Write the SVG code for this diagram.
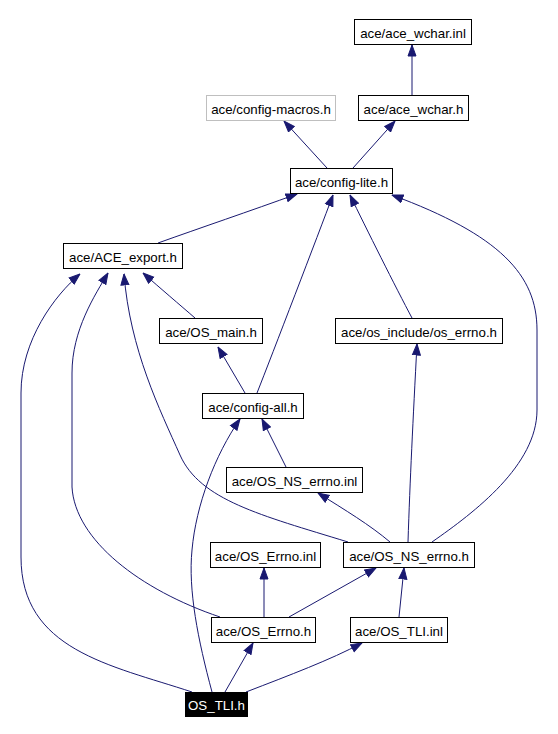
<svg xmlns="http://www.w3.org/2000/svg" width="558" height="734" viewBox="0 0 558 734">
<style>
.box{fill:#ffffff;stroke:#000000;stroke-width:1}
.grey{fill:#ffffff;stroke:#bfbfbf;stroke-width:1}
.root{fill:#000000;stroke:#000000;stroke-width:1}
.lbl{font-family:"Liberation Sans",Arial,Helvetica,sans-serif;font-size:13.3px;fill:#000000;text-anchor:middle}
.wlbl{font-family:"Liberation Sans",Arial,Helvetica,sans-serif;font-size:13.3px;fill:#ffffff;text-anchor:middle}
.edge{fill:none;stroke:#191970;stroke-width:1;marker-end:url(#ah)}
</style>
<defs>
<marker id="ah" markerUnits="userSpaceOnUse" viewBox="0 0 12 10" markerWidth="12" markerHeight="10" refX="11.5" refY="5" orient="auto">
<path d="M0.5,1 L11.5,5 L0.5,9 z" fill="#191970" stroke="#191970" stroke-width="1"/>
</marker>
</defs>
<rect width="558" height="734" fill="#ffffff"/>
<g id="connectors">
<path class="edge" d="M412,95 L412,45"/>
<path class="edge" d="M327,168 L284,121"/>
<path class="edge" d="M353,168 L395,121"/>
<path class="edge" d="M158,243 C200,228 250,211 297,194"/>
<path class="edge" d="M257,393 C272,355 318,235 333,195"/>
<path class="edge" d="M412,318 C396,288 366,228 350,195"/>
<path class="edge" d="M432,542 C475,512 537,465 537,410 L537,330 C537,275 500,235 392,195"/>
<path class="edge" d="M195,318 C180,305 160,288 143,273"/>
<path class="edge" d="M245,393 L218,347"/>
<path class="edge" d="M220,617 C140,590 75,540 72,487 L72,373 C72,330 95,295 108,273"/>
<path class="edge" d="M192,692 C110,665 21,650 21,557 L21,393 C21,340 55,295 80,274"/>
<path class="edge" d="M348,542 C260,515 200,500 180,455 C160,410 130,350 124,274"/>
<path class="edge" d="M212,692 C198,640 188,590 192,550 C196,505 215,455 240,419"/>
<path class="edge" d="M286,467 L262,419"/>
<path class="edge" d="M390,542 C370,525 345,510 318,493"/>
<path class="edge" d="M408,542 C410,480 413,420 417,344"/>
<path class="edge" d="M264,617 L264,568"/>
<path class="edge" d="M289,617 L376,568"/>
<path class="edge" d="M399,617 L404,568"/>
<path class="edge" d="M225,692 L253,643"/>
<path class="edge" d="M246,692 C290,675 330,660 362,643"/>
</g>
<g id="n_ace_wchar_inl"><rect class="box" x="354.5" y="19.5" width="117" height="25"/><text class="lbl" x="413" y="37.5">ace/ace_wchar.inl</text></g>
<g id="n_config_macros"><rect class="grey" x="206.5" y="95.5" width="129" height="25"/><text class="lbl" x="271" y="113.5">ace/config-macros.h</text></g>
<g id="n_ace_wchar_h"><rect class="box" x="358.5" y="95.5" width="110" height="25"/><text class="lbl" x="413.5" y="113.5">ace/ace_wchar.h</text></g>
<g id="n_config_lite"><rect class="box" x="290.5" y="168.5" width="102" height="25"/><text class="lbl" x="341.5" y="186.5">ace/config-lite.h</text></g>
<g id="n_ace_export"><rect class="box" x="63.5" y="243.5" width="119" height="25"/><text class="lbl" x="123" y="261.5">ace/ACE_export.h</text></g>
<g id="n_os_main"><rect class="box" x="159.5" y="318.5" width="103" height="25"/><text class="lbl" x="211" y="336.5">ace/OS_main.h</text></g>
<g id="n_os_include_errno"><rect class="box" x="335.5" y="318.5" width="167" height="25"/><text class="lbl" x="419" y="336.5">ace/os_include/os_errno.h</text></g>
<g id="n_config_all"><rect class="box" x="202.5" y="393.5" width="101" height="25"/><text class="lbl" x="253" y="411.5">ace/config-all.h</text></g>
<g id="n_os_ns_errno_inl"><rect class="box" x="226.5" y="467.5" width="136" height="25"/><text class="lbl" x="294.5" y="485.5">ace/OS_NS_errno.inl</text></g>
<g id="n_os_errno_inl"><rect class="box" x="210.5" y="542.5" width="110" height="25"/><text class="lbl" x="265.5" y="560.5">ace/OS_Errno.inl</text></g>
<g id="n_os_ns_errno_h"><rect class="box" x="343.5" y="542.5" width="131" height="25"/><text class="lbl" x="409" y="560.5">ace/OS_NS_errno.h</text></g>
<g id="n_os_errno_h"><rect class="box" x="211.5" y="617.5" width="104" height="25"/><text class="lbl" x="263.5" y="635.5">ace/OS_Errno.h</text></g>
<g id="n_os_tli_inl"><rect class="box" x="350.5" y="617.5" width="97" height="25"/><text class="lbl" x="399" y="635.5">ace/OS_TLI.inl</text></g>
<g id="n_os_tli_h"><rect class="root" x="185.5" y="692.5" width="62" height="24"/><text class="wlbl" x="216.5" y="710">OS_TLI.h</text></g>
</svg>
